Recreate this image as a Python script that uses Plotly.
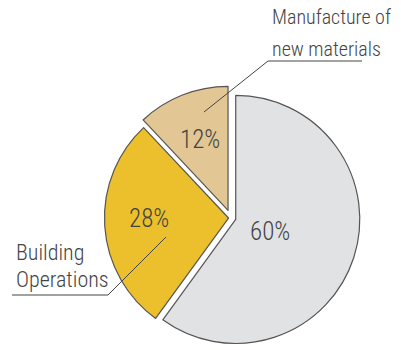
import plotly.graph_objects as go

labels = ["Other", "Building Operations", "Manufacture of new materials"]
values = [60, 28, 12]
colors = ["#e1e2e4", "#ecc02c", "#e2c795"]
pulls = [0.04, 0.02, 0.065]
pct_pos = [(270, 232), (149, 218), (200, 139)]  # label positions in pixels

W, H = 401, 350
FONT = "Roboto Condensed"
TXT = "#444444"

fig = go.Figure(go.Pie(
    labels=labels,
    values=values,
    sort=False,
    direction="clockwise",
    rotation=0,
    pull=pulls,
    marker=dict(colors=colors, line=dict(color="#555555", width=1.2)),
    textinfo="none",
    hoverinfo="label+percent",
    domain=dict(x=[96 / W, 366 / W], y=[0, 0.755]),
    showlegend=False,
))

def px(x):
    return x / W

def py(y):
    return 1 - y / H

annotations = []
total = sum(values)
for v, (x, y) in zip(values, pct_pos):
    annotations.append(dict(
        text=f"{round(100 * v / total)}%", x=px(x), y=py(y), xref="paper", yref="paper",
        xanchor="center", yanchor="middle", showarrow=False,
        font=dict(family=FONT, size=25, color=TXT, weight=300),
    ))

def add_text(t, x, y_mid, size):
    annotations.append(dict(
        text=t, x=px(x), y=py(y_mid), xref="paper", yref="paper",
        xanchor="left", yanchor="middle", showarrow=False,
        font=dict(family=FONT, size=size, color=TXT, weight=300),
    ))

add_text("Manufacture of", 270, 17, 20)
add_text("new materials", 270, 49, 20)
add_text("Building", 14, 252, 22)
add_text("Operations", 14, 279, 22)

shapes = []
def line(x0, y0, x1, y1):
    shapes.append(dict(type="line", xref="paper", yref="paper",
                       x0=px(x0), y0=py(y0), x1=px(x1), y1=py(y1),
                       line=dict(color="#444444", width=1)))

line(268, 61, 362, 61)
line(268, 61, 204, 112)
line(12, 295, 108, 295)
line(108, 295, 166, 237)

fig.update_layout(
    width=W, height=H,
    margin=dict(l=0, r=0, t=0, b=0),
    paper_bgcolor="white",
    plot_bgcolor="white",
    annotations=annotations,
    shapes=shapes,
)

fig.write_html("out.html")
